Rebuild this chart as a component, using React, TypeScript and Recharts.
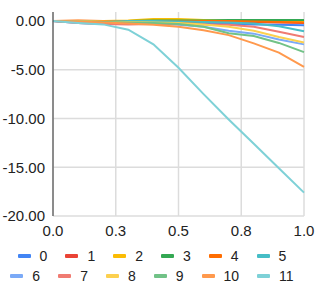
import React from 'react';
import { LineChart, Line, XAxis, YAxis, CartesianGrid, Legend } from 'recharts';

const xValues = [0, 0.1, 0.2, 0.3, 0.4, 0.5, 0.6, 0.7, 0.8, 0.9, 1.0];

const s0 = [0, -0.2, -0.3, -0.25, -0.2, -0.2, -0.25, -0.3, -0.35, -0.4, -0.45];
const s1 = [0, -0.1, -0.2, -0.2, -0.15, -0.1, -0.1, -0.1, -0.1, -0.15, -0.2];
const s2 = [0, 0, 0, 0.05, 0.2, 0.2, 0.1, 0.05, 0, 0, 0];
const s3 = [0, 0, -0.05, 0, 0.05, 0.05, 0.05, 0.1, 0.1, 0.1, 0.1];
const s4 = [0, 0.05, 0, -0.05, -0.05, -0.05, 0, 0, -0.05, -0.1, -0.15];
const s5 = [0, -0.05, -0.1, 0, 0, -0.05, -0.1, -0.15, -0.25, -0.55, -1.05];
const s6 = [0, -0.1, -0.15, -0.2, -0.3, -0.4, -0.6, -1.0, -1.3, -1.9, -2.4];
const s7 = [0, -0.2, -0.3, -0.35, -0.3, -0.3, -0.35, -0.4, -0.6, -1.1, -1.65];
const s8 = [0, 0, -0.05, -0.1, -0.15, -0.2, -0.35, -0.6, -1.0, -1.65, -2.2];
const s9 = [0, -0.05, -0.1, -0.15, -0.2, -0.3, -0.6, -1.25, -1.55, -2.25, -3.2];
const s10 = [0, -0.05, -0.15, -0.25, -0.4, -0.6, -0.95, -1.45, -2.3, -3.25, -4.7];
const s11 = [0, -0.2, -0.35, -0.9, -2.4, -4.8, -7.5, -10.1, -12.6, -15.1, -17.6];

const seriesValues = [s0, s1, s2, s3, s4, s5, s6, s7, s8, s9, s10, s11];
const seriesNames = ['0', '1', '2', '3', '4', '5', '6', '7', '8', '9', '10', '11'];
const seriesColors = [
  '#4285F4', '#EA4335', '#FBBC04', '#34A853', '#FF6D01', '#46BDC6',
  '#7BAAF7', '#F07B72', '#FCD04F', '#71C287', '#FF994D', '#7ED1D7',
];

const xTicks = [0, 0.25, 0.5, 0.75, 1];
const yTicks = [-20, -15, -10, -5, 0];

const data = xValues.map((x, i) => {
  const row: Record<string, number> = { x };
  seriesValues.forEach((s, k) => {
    row['s' + k] = s[i];
  });
  return row;
});

const FONT = '"Liberation Sans", Arial, sans-serif';

const renderLegend = () => {
  const rows = [seriesNames.slice(0, 6), seriesNames.slice(6, 12)];
  return (
    <div style={{ height: 48, paddingTop: 6, boxSizing: 'border-box', fontFamily: FONT, fontSize: 14, color: '#222' }}>
      {rows.map((row, r) => (
        <div key={r} style={{ display: 'flex', justifyContent: 'center', height: 20, alignItems: 'center', gap: 18 }}>
          {row.map((name) => {
            const idx = seriesNames.indexOf(name);
            return (
              <div key={name} style={{ display: 'flex', alignItems: 'center' }}>
                <span style={{ display: 'inline-block', width: 13, height: 4, background: seriesColors[idx], borderRadius: 1, marginRight: 9 }} />
                <span style={{ lineHeight: '20px' }}>{name}</span>
              </div>
            );
          })}
        </div>
      ))}
    </div>
  );
};

export default function App() {
  return (
    <div style={{ position: 'absolute', left: 0, top: 0, width: 318, height: 288 }}>
      <LineChart width={318} height={288} data={data} margin={{ top: 12, right: 14, bottom: 0, left: 0 }}>
        <CartesianGrid stroke="#dcdcdc" strokeWidth={1.5} horizontalValues={yTicks} verticalValues={xTicks} />
        <XAxis
          dataKey="x"
          type="number"
          domain={[0, 1]}
          ticks={xTicks}
          tickFormatter={(v: number) => v.toFixed(1)}
          axisLine={false}
          tickLine={false}
          tickMargin={3}
          height={24}
          tick={{ fontSize: 15, fontFamily: FONT, fill: '#222' }}
        />
        <YAxis
          type="number"
          domain={[-20, 0.92]}
          ticks={yTicks}
          tickFormatter={(v: number) => v.toFixed(2)}
          axisLine={{ stroke: '#333', strokeWidth: 1 }}
          tickLine={false}
          width={53}
          tick={{ fontSize: 15, fontFamily: FONT, fill: '#222' }}
        />
        <Legend verticalAlign="bottom" height={48} content={renderLegend} />
        {seriesValues.map((_, k) => (
          <Line
            key={k}
            dataKey={'s' + k}
            name={seriesNames[k]}
            stroke={seriesColors[k]}
            strokeWidth={2}
            dot={false}
            type="linear"
            isAnimationActive={false}
          />
        ))}
      </LineChart>
    </div>
  );
}
